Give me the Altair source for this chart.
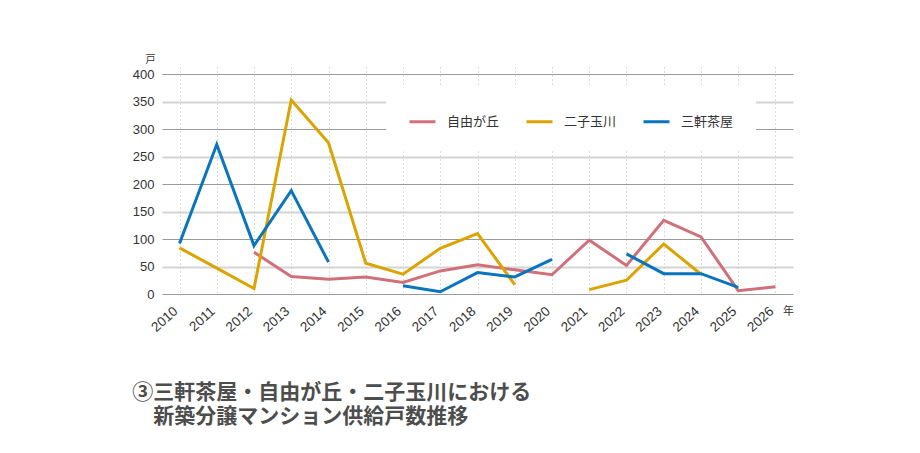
import altair as alt
import pandas as pd

years = list(range(2010, 2027))
areas = ["自由が丘", "二子玉川", "三軒茶屋"]
colors = ["#d0707a", "#dba400", "#0a74bc"]

jiyugaoka = [None, None, 76, 32, 27, 31, 21, 42, 53, 44, 35, 98, 52, 134, 104, 6, 13]
futako = [84, 47, 10, 353, 275, 56, 36, 83, 110, 17, None, 8, 25, 91, 36, None, None]
sangenjaya = [92, 272, 88, 188, 58, None, 15, 4, 39, 31, 63, None, 73, 37, 37, 12, None]

y_ticks = [0, 50, 100, 150, 200, 250, 300, 350, 400]
title_lines = ["③三軒茶屋・自由が丘・二子玉川における", "\u200b\u3000新築分譲マンション供給戸数推移"]

rows = []
for name, vals in zip(areas, [jiyugaoka, futako, sangenjaya]):
    seg = 0
    for yr, v in zip(years, vals):
        if v is None:
            seg += 1
            continue
        rows.append({"year": str(yr), "value": v, "area": name, "seg": f"{name}-{seg}"})
df = pd.DataFrame(rows)

JP = "Noto Sans CJK JP"
NUM = "Liberation Sans"

chart = alt.Chart(df).mark_line(strokeWidth=3).encode(
    x=alt.X(
        "year:O",
        sort=[str(y) for y in years],
        scale=alt.Scale(type="point", padding=0.47, domain=[str(y) for y in years]),
        axis=alt.Axis(
            labelAngle=318, labelAlign="right", labelBaseline="middle",
            labelFont=NUM, labelFontSize=13.5, labelColor="#333",
            labelPadding=15, labelOffset=-4,
            ticks=False, domain=False,
            grid=True, gridColor="#bbbbbb", gridDash=[1, 3], gridWidth=1,
            title="年", titleAngle=0, titleX=626, titleY=17, titleAlign="center",
            titleBaseline="middle", titleFont=JP, titleFontSize=11,
            titleFontWeight="normal", titleColor="#333",
        ),
    ),
    y=alt.Y(
        "value:Q",
        scale=alt.Scale(domain=[0, 413], nice=False, zero=True),
        axis=alt.Axis(
            values=y_ticks, labelFont=NUM, labelFontSize=13, labelColor="#333",
            labelPadding=8, ticks=False, domain=False, grid=True,
            gridColor=alt.condition("datum.value % 100 === 0", alt.value("#9a9a9a"), alt.value("#d4d4d4")),
            gridWidth=alt.condition("datum.value % 100 === 0", alt.value(1), alt.value(2)),
            title="戸", titleAngle=0, titleX=-12, titleY=-8, titleAlign="center",
            titleBaseline="middle", titleFont=JP, titleFontSize=10,
            titleFontWeight="normal", titleColor="#333",
        ),
    ),
    color=alt.Color(
        "area:N",
        sort=areas,
        scale=alt.Scale(domain=areas, range=colors),
        legend=alt.Legend(
            title=None, orient="none", legendX=224, legendY=18,
            direction="horizontal", fillColor="white", padding=22,
            symbolType="stroke", symbolSize=676, symbolStrokeWidth=3,
            labelFont=JP, labelFontSize=13, labelColor="#333", labelOffset=10,
            columnPadding=20,
        ),
    ),
    detail="seg:N",
).properties(
    width=631,
    height=227,
    autosize=alt.AutoSizeParams(type="none"),
    padding={"left": 154, "top": 59, "right": 119, "bottom": 151},
    title=alt.TitleParams(
        text=title_lines, orient="bottom", anchor="start", font=JP,
        fontSize=21, fontWeight="bold", color="#4d4d4d", lineHeight=24.5,
        offset=48,
    ),
).configure_view(stroke=None)

chart.save("out.html", embed_options={"renderer": "svg", "actions": False})
